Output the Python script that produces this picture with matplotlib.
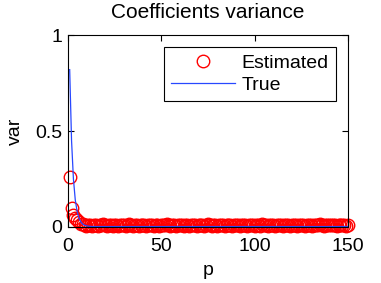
import matplotlib
matplotlib.use("Agg")
import matplotlib.pyplot as plt

plt.rcParams['font.family'] = ['Liberation Sans', 'DejaVu Sans']

p = list(range(1, 151))
true_head = [0.82, 0.45, 0.25, 0.14, 0.08, 0.045, 0.026, 0.015, 0.009, 0.006, 0.004, 0.003]
true_var = true_head + [0.002] * (150 - len(true_head))

est_head = [0.26, 0.10, 0.06, 0.045, 0.035, 0.025, 0.018, 0.013]
est_tail = [0.009, 0.007, 0.011, 0.008, 0.006, 0.010, 0.012, 0.007, 0.009, 0.008,
            0.013, 0.009, 0.007, 0.010, 0.008, 0.006, 0.011, 0.009, 0.007, 0.012,
            0.008, 0.010, 0.007, 0.009, 0.014, 0.008, 0.006, 0.009, 0.011, 0.007,
            0.010, 0.008, 0.009, 0.007, 0.012, 0.009, 0.008, 0.006, 0.010, 0.009,
            0.007, 0.011, 0.008, 0.009, 0.015, 0.009, 0.007, 0.008, 0.010, 0.007,
            0.009, 0.012, 0.008, 0.006, 0.009, 0.010, 0.007, 0.008, 0.011, 0.009,
            0.007, 0.009, 0.008, 0.010, 0.007, 0.009, 0.013, 0.008, 0.007, 0.010,
            0.009, 0.007, 0.008, 0.011, 0.009, 0.006, 0.009, 0.008, 0.010, 0.007,
            0.009, 0.012, 0.008, 0.007, 0.009, 0.010, 0.008, 0.007, 0.009, 0.011,
            0.008, 0.007, 0.010, 0.009, 0.007, 0.014, 0.008, 0.009, 0.007, 0.010,
            0.008, 0.009, 0.007, 0.011, 0.008, 0.009, 0.007, 0.010, 0.008, 0.009,
            0.007, 0.012, 0.009, 0.008, 0.007, 0.010, 0.008, 0.009, 0.007, 0.011,
            0.008, 0.009, 0.007, 0.010, 0.008, 0.009, 0.013, 0.008, 0.007, 0.010,
            0.009, 0.008, 0.011, 0.009, 0.008, 0.007, 0.010, 0.009, 0.008, 0.009,
            0.007, 0.011]
est_var = est_head + est_tail

xticks = [0, 50, 100, 150]
yticks = [0, 0.5, 1]
yticklabels = ['0', '0.5', '1']

fs = 14
fig = plt.figure(figsize=(3.81, 2.83), dpi=100)
ax = fig.add_axes([0.178, 0.198, 0.735, 0.678])
ax.plot(p, est_var, 'o', mfc='none', mec='#ff0000', ms=9, mew=1.0, label='Estimated', clip_on=False)
ax.plot(p, true_var, '-', color='#2848ff', lw=0.9, label='True')
ax.set_xlim(0, 150)
ax.set_ylim(0, 1)
ax.set_xticks(xticks)
ax.set_yticks(yticks)
ax.set_yticklabels(yticklabels)
ax.tick_params(direction='in', top=True, right=True, labelsize=fs, length=4, width=0.8)
ax.tick_params(axis='x', pad=8)
ax.tick_params(axis='y', pad=4)
for s in ax.spines.values():
    s.set_linewidth(0.8)
ax.set_title('Coefficients variance', fontsize=15, pad=12)
ax.set_xlabel('p', fontsize=fs, labelpad=5)
ax.set_ylabel('var', fontsize=fs, labelpad=8)
leg = ax.legend(loc='upper right', numpoints=1, fontsize=fs, fancybox=False,
                edgecolor='black', framealpha=1, handlelength=3.3, borderpad=0.4,
                labelspacing=0.2, handletextpad=0.3, borderaxespad=0.6)
leg.get_frame().set_linewidth(0.8)
fig.savefig('out.png', dpi=100)
